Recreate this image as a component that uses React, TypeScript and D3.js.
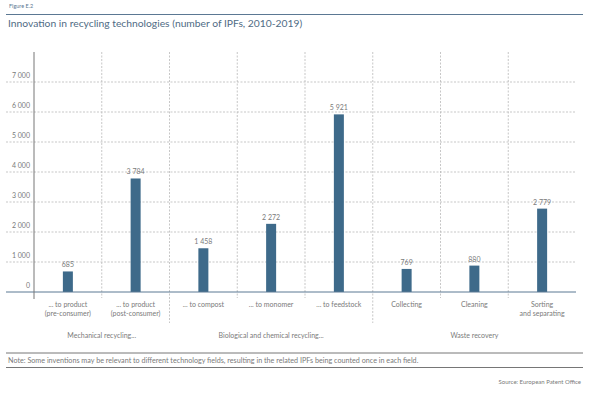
import React from "react";
import * as d3 from "d3";

const categories = [
  ["... to product", "(pre-consumer)"],
  ["... to product", "(post-consumer)"],
  ["... to compost"],
  ["... to monomer"],
  ["... to feedstock"],
  ["Collecting"],
  ["Cleaning"],
  ["Sorting", "and separating"],
];
const values = [685, 3784, 1458, 2272, 5921, 769, 880, 2779];
const yTicks = [0, 1000, 2000, 3000, 4000, 5000, 6000, 7000];
const groups = [
  { label: "Mechanical recycling...", start: 0, end: 2 },
  { label: "Biological and chemical recycling...", start: 2, end: 5 },
  { label: "Waste recovery", start: 5, end: 8 },
];
const title = "Innovation in recycling technologies (number of IPFs, 2010-2019)";
const figureLabel = "Figure E.2";
const note =
  "Note: Some inventions may be relevant to different technology fields, resulting in the related IPFs being counted once in each field.";
const source = "Source: European Patent Office";

const W = 589;
const H = 393;
const FONT = "Lato, 'Open Sans', sans-serif";
const BAR = "#3e6a8a";
const TXT = "#7a7a7a";
const LINE = "#5b7893";

export default function App() {
  const x0 = 34;
  const x1 = 576;
  const x = d3.scaleBand<number>().domain(d3.range(categories.length)).range([x0, x1]);
  const y = d3.scaleLinear().domain([0, 7000]).range([292, 82]);
  const fmt = (v: number) => d3.format(",")(v).replace(/,/g, " ");
  const bw = 10;

  return (
    <svg width={W} height={H} style={{ position: "absolute", left: 0, top: 0 }} fontFamily={FONT}>
      <rect width={W} height={H} fill="#fff" />
      <text x={9} y={8} fontSize={5.5} fill={LINE}>{figureLabel}</text>
      <line x1={6} x2={583} y1={14.5} y2={14.5} stroke={LINE} strokeWidth={1.2} />
      <text x={8} y={27} fontSize={10.3} fill="#4f6b84">{title}</text>

      {/* gridlines */}
      {yTicks.filter((t) => t > 0).map((t) => (
        <line key={t} x1={6} x2={x1} y1={y(t)} y2={y(t)} stroke="#b9b9b9" strokeWidth={0.8} strokeDasharray="2,1.5" />
      ))}
      {yTicks.map((t) => (
        <text key={"l" + t} x={30} y={y(t) - 4} fontSize={7} fill={TXT} textAnchor="end">{fmt(t)}</text>
      ))}

      {/* vertical separators */}
      {d3.range(1, categories.length).map((i) => {
        const isGroup = groups.some((g) => g.start === i);
        return (
          <line key={"v" + i} x1={x(i)!} x2={x(i)!} y1={52} y2={isGroup ? 323 : 298}
            stroke="#b9b9b9" strokeWidth={0.8} strokeDasharray="2,1.5" />
        );
      })}

      {/* bars */}
      {values.map((v, i) => {
        const cx = x(i)! + x.bandwidth() / 2;
        return (
          <g key={"b" + i}>
            <rect x={cx - bw / 2} y={y(v)} width={bw} height={y(0) - y(v)} fill={BAR} />
            <text x={cx} y={y(v) - 4} fontSize={7} fill={TXT} textAnchor="middle">{fmt(v)}</text>
          </g>
        );
      })}

      {/* axes */}
      <line x1={6} x2={x1} y1={y(0)} y2={y(0)} stroke={LINE} strokeWidth={1} />
      <line x1={x0} x2={x0} y1={52} y2={299} stroke="#777" strokeWidth={1} />

      {/* category labels */}
      {categories.map((lines, i) => {
        const cx = x(i)! + x.bandwidth() / 2;
        return (
          <text key={"c" + i} x={cx} fontSize={7} fill={TXT} textAnchor="middle">
            {lines.map((l, j) => (
              <tspan key={j} x={cx} y={307 + j * 9}>{l}</tspan>
            ))}
          </text>
        );
      })}

      {/* group labels */}
      {groups.map((g) => {
        const cx = (x(g.start)! + (g.end === categories.length ? x1 : x(g.end)!)) / 2;
        return (
          <text key={g.label} x={cx} y={338} fontSize={7} fill={TXT} textAnchor="middle">{g.label}</text>
        );
      })}

      {/* note */}
      <line x1={6} x2={583} y1={353} y2={353} stroke="#666" strokeWidth={0.9} />
      <text x={8} y={363} fontSize={7.2} fill={TXT}>{note}</text>
      <line x1={6} x2={583} y1={367.5} y2={367.5} stroke="#666" strokeWidth={0.9} />
      <text x={581} y={384} fontSize={6} fill={TXT} textAnchor="end">{source}</text>
    </svg>
  );
}
